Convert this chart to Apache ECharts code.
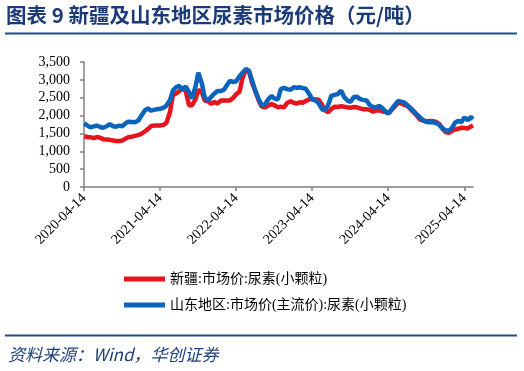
<!DOCTYPE html>
<html>
<head>
<meta charset="utf-8">
<script src="https://cdn.jsdelivr.net/npm/echarts@6/dist/echarts.min.js"></script>
<style>
html,body{margin:0;padding:0;background:#fff;}
#chart{width:524px;height:371px;}
</style>
</head>
<body>
<div id="chart"></div>
<script>
// ---- data ----
const dates = [
'2020-04-15','2020-05-01','2020-05-15','2020-06-01','2020-06-15','2020-07-01','2020-07-15','2020-08-01','2020-08-15','2020-09-01','2020-09-15','2020-10-01','2020-10-15','2020-11-01','2020-11-15','2020-12-01','2020-12-15',
'2021-01-01','2021-01-15','2021-02-01','2021-02-15','2021-03-01','2021-03-15','2021-04-01','2021-04-15','2021-05-01','2021-05-15','2021-06-01','2021-06-15','2021-07-01','2021-07-15','2021-08-01','2021-08-15','2021-09-01','2021-09-15','2021-10-01','2021-10-15','2021-11-01','2021-11-15','2021-12-01','2021-12-15',
'2022-01-01','2022-01-15','2022-02-01','2022-02-15','2022-03-01','2022-03-15','2022-04-01','2022-04-15','2022-05-01','2022-05-15','2022-06-01','2022-06-15','2022-07-01','2022-07-15','2022-08-01','2022-08-15','2022-09-01','2022-09-15','2022-10-01','2022-10-15','2022-11-01','2022-11-15','2022-12-01','2022-12-15',
'2023-01-01','2023-01-15','2023-02-01','2023-02-15','2023-03-01','2023-03-15','2023-04-01','2023-04-15','2023-05-01','2023-05-15','2023-06-01','2023-06-15','2023-07-01','2023-07-15','2023-08-01','2023-08-15','2023-09-01','2023-09-15','2023-10-01','2023-10-15','2023-11-01','2023-11-15','2023-12-01','2023-12-15',
'2024-01-01','2024-01-15','2024-02-01','2024-02-15','2024-03-01','2024-03-15','2024-04-01','2024-04-15','2024-05-01','2024-05-15','2024-06-01','2024-06-15','2024-07-01','2024-07-15','2024-08-01','2024-08-15','2024-09-01','2024-09-15','2024-10-01','2024-10-15','2024-11-01','2024-11-15','2024-12-01','2024-12-15',
'2025-01-01','2025-01-15','2025-02-01','2025-02-15','2025-03-01','2025-03-15','2025-04-01','2025-04-15','2025-05-01','2025-05-15','2025-05-26'
];

const xinjiang = [
1420,1400,1390,1370,1400,1380,1340,1330,1320,1300,1290,1290,1300,1360,1400,1410,1430,
1460,1490,1560,1620,1700,1720,1720,1720,1740,1800,2100,2580,2620,2680,2750,2690,2280,2290,2450,2720,2650,2420,2400,2330,
2380,2340,2420,2420,2420,2420,2500,2600,2670,3050,3300,3250,2900,2700,2420,2250,2230,2280,2320,2290,2230,2250,2230,2350,
2400,2360,2340,2370,2360,2410,2460,2460,2450,2450,2300,2150,2090,2180,2250,2240,2260,2250,2230,2220,2240,2230,2200,2180,
2180,2160,2110,2140,2150,2120,2100,2070,2160,2250,2360,2340,2300,2270,2170,2080,1980,1880,1860,1840,1850,1840,1820,1760,
1620,1530,1520,1580,1610,1630,1660,1650,1640,1690,1720
];

const shandong = [
1780,1720,1670,1700,1720,1680,1660,1700,1760,1700,1690,1720,1700,1790,1830,1820,1810,
1870,2000,2150,2200,2140,2160,2180,2190,2220,2280,2430,2700,2800,2830,2720,2820,2650,2480,2800,3200,2900,2500,2420,2520,
2620,2690,2690,2720,2850,2970,2940,2960,3100,3200,3300,3250,2970,2700,2460,2290,2320,2450,2550,2480,2450,2740,2780,2740,
2720,2790,2780,2790,2770,2750,2600,2460,2420,2350,2180,2140,2300,2550,2580,2600,2700,2520,2420,2380,2520,2530,2460,2440,
2420,2300,2240,2230,2270,2220,2120,2050,2180,2290,2410,2390,2360,2290,2200,2120,2020,1940,1860,1820,1810,1810,1790,1740,
1640,1580,1580,1660,1800,1850,1820,1950,1870,1960,1900
];

const xTickDates = ['2020-04-14','2021-04-14','2022-04-14','2023-04-14','2024-04-14','2025-04-14'];
const xMin = '2020-04-14';
const xMax = '2025-05-26';
const yTicks = [0, 500, 1000, 1500, 2000, 2500, 3000, 3500];

const seriesNames = ['新疆:市场价:尿素(小颗粒)', '山东地区:市场价(主流价):尿素(小颗粒)'];
const titleText = '图表 9 新疆及山东地区尿素市场价格（元/吨）';
const sourceText = '资料来源：Wind，华创证券';

// ---- chart ----
const chart = echarts.init(document.getElementById('chart'), null, {renderer: 'canvas'});
const serif = '"Liberation Serif", "Times New Roman", "Noto Sans CJK SC", serif';
const toTs = s => {
  const p = s.split('-').map(Number);
  return Date.UTC(p[0], p[1] - 1, p[2]);
};
const fmtDate = v => {
  const d = new Date(Math.round(v / 86400000) * 86400000);
  const mm = String(d.getUTCMonth() + 1).padStart(2, '0');
  const dd = String(d.getUTCDate()).padStart(2, '0');
  return d.getUTCFullYear() + '-' + mm + '-' + dd;
};
const pair = arr => dates.map((d, i) => [toTs(d), arr[i]]);
const fmtThousands = v => String(v).replace(/\B(?=(\d{3})+(?!\d))/g, ',');
const tickTs = xTickDates.map(toTs);

const option = {
  animation: false,
  backgroundColor: '#fff',
  grid: {left: 84, right: 51, top: 62, bottom: 184, containLabel: false},
  xAxis: {
    type: 'value',
    min: toTs(xMin),
    max: toTs(xMax),
    scale: true,
    splitLine: {show: false},
    axisLine: {show: true, lineStyle: {color: '#808080', width: 1.5}},
    axisTick: {show: true, length: 4, lineStyle: {color: '#808080', width: 1.5}, customValues: tickTs},
    axisLabel: {
      customValues: tickTs,
      rotate: 45, margin: 9, color: '#000', fontSize: 14, fontFamily: serif,
      formatter: fmtDate
    }
  },
  yAxis: {
    type: 'value',
    min: yTicks[0],
    max: yTicks[yTicks.length - 1],
    interval: 500,
    splitLine: {show: false},
    axisLine: {show: true, lineStyle: {color: '#808080', width: 1.5}},
    axisTick: {show: true, length: 4, lineStyle: {color: '#808080', width: 1.5}},
    axisLabel: {margin: 14, color: '#000', fontSize: 14, fontFamily: serif, formatter: fmtThousands}
  },
  legend: {
    orient: 'vertical',
    left: 124, top: 272, padding: 0,
    icon: 'rect', itemWidth: 41, itemHeight: 5, itemGap: 12,
    textStyle: {fontSize: 14, color: '#000', fontFamily: serif},
    data: seriesNames
  },
  series: [
    {name: seriesNames[0], type: 'line', data: pair(xinjiang), showSymbol: false,
      lineStyle: {width: 4.5, color: '#e8141c'}, itemStyle: {color: '#e8141c'}},
    {name: seriesNames[1], type: 'line', data: pair(shandong), showSymbol: false,
      lineStyle: {width: 4.5, color: '#0a63bc'}, itemStyle: {color: '#0a63bc'}}
  ],
  graphic: [
    {type: 'text', left: 6, top: 5, style: {text: titleText, fill: '#1b3b78', font: 'bold 20.5px "Noto Sans CJK SC", sans-serif'}},
    {type: 'line', shape: {x1: 5, y1: 33.5, x2: 517, y2: 33.5}, style: {stroke: '#1f4e8c', lineWidth: 2}},
    {type: 'line', shape: {x1: 5, y1: 335.5, x2: 517, y2: 335.5}, style: {stroke: '#1f4e8c', lineWidth: 2}},
    {type: 'text', left: 8, top: 346, style: {text: sourceText, fill: '#1f3f7a', font: 'italic 17px "Noto Sans CJK SC", serif'}}
  ]
};
chart.setOption(option);
</script>
</body>
</html>
